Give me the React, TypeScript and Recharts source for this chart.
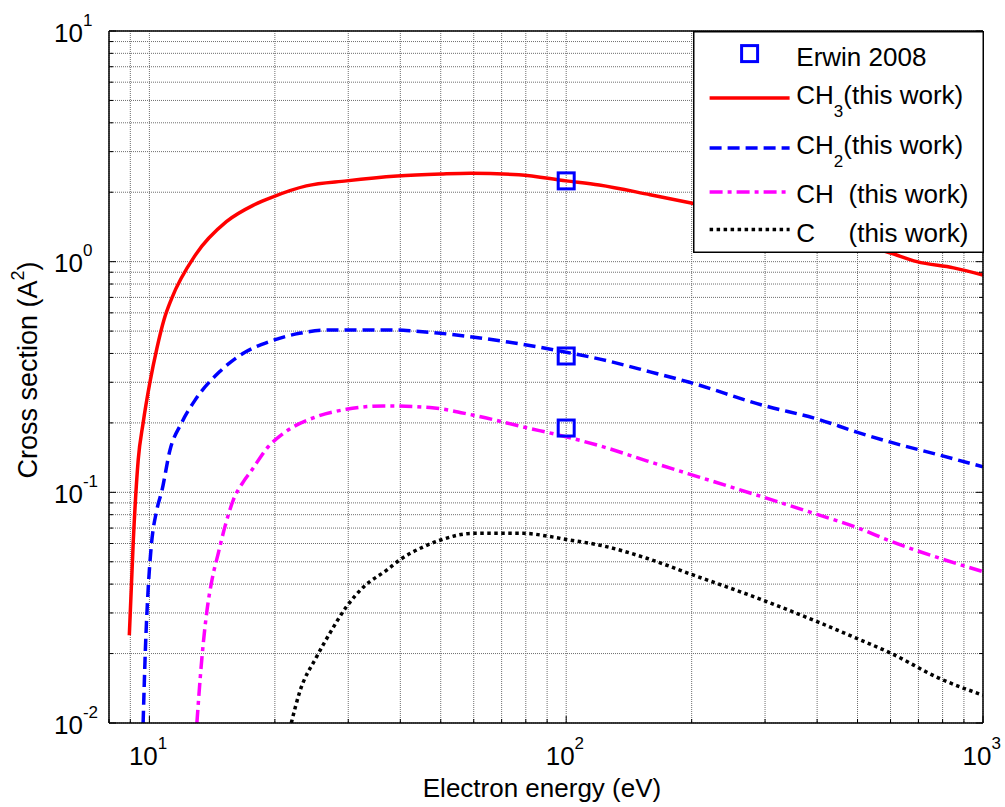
import React from 'react';
import { ComposedChart, Line, Scatter, XAxis, YAxis, CartesianGrid } from 'recharts';

// ---- data ----
const ch3Energy = [8.95, 9.15, 9.4, 9.66, 10.03, 10.42, 10.84, 11.3, 12.9, 15.3, 17.8, 19.8, 23.8, 29.7, 39.3, 50, 59, 77, 100, 120, 159, 198, 600, 694, 850, 1000];
const ch3Values = [0.024, 0.062, 0.138, 0.2, 0.3, 0.42, 0.56, 0.69, 1.07, 1.49, 1.76, 1.91, 2.13, 2.24, 2.35, 2.4, 2.42, 2.38, 2.24, 2.15, 1.95, 1.8, 1.09, 1.0, 0.94, 0.875];

const ch2Energy = [9.66, 9.78, 9.93, 10.1, 10.42, 10.72, 11.2, 11.93, 12.87, 14.73, 16.8, 19.4, 22.9, 26.5, 39.3, 43.3, 69.3, 100, 120.5, 159, 197.6, 297.6, 400, 500, 600, 787, 1000];
const ch2Values = [0.01, 0.0207, 0.0377, 0.058, 0.084, 0.102, 0.152, 0.199, 0.251, 0.333, 0.401, 0.45, 0.489, 0.505, 0.505, 0.5, 0.454, 0.405, 0.378, 0.333, 0.3, 0.238, 0.208, 0.182, 0.165, 0.145, 0.129];

const chEnergy = [13.0, 13.35, 13.75, 14.13, 14.63, 15.18, 15.9, 16.8, 17.5, 19.3, 20.95, 25.2, 29.7, 36.4, 47.1, 59.9, 78.9, 100, 120.5, 156, 197.6, 297.6, 400, 500, 600, 787, 1000];
const chValues = [0.01, 0.0187, 0.0309, 0.0417, 0.0544, 0.071, 0.0927, 0.111, 0.123, 0.158, 0.18, 0.213, 0.229, 0.237, 0.233, 0.216, 0.192, 0.174, 0.159, 0.137, 0.12, 0.0952, 0.0802, 0.0702, 0.0614, 0.0518, 0.0453];

const cEnergy = [21.9, 22.9, 25.2, 27.1, 29.7, 32.7, 37.1, 39.9, 45.4, 49.8, 59.9, 78.9, 91.5, 100, 120.5, 156, 197.6, 297.6, 400, 500, 600, 787, 1000];
const cValues = [0.01, 0.0135, 0.0194, 0.0245, 0.0319, 0.039, 0.046, 0.051, 0.058, 0.062, 0.0664, 0.0664, 0.0643, 0.0625, 0.059, 0.0518, 0.0444, 0.034, 0.0275, 0.0232, 0.0201, 0.0156, 0.0132];

const erwinEnergy = [100, 100, 100];
const erwinValues = [2.24, 0.39, 0.19];

const xTicks = [8, 9, 10, 20, 30, 40, 50, 60, 70, 80, 90, 100, 200, 300, 400, 500, 600, 700, 800, 900, 1000];
const yTicks = [0.01, 0.02, 0.03, 0.04, 0.05, 0.06, 0.07, 0.08, 0.09, 0.1, 0.2, 0.3, 0.4, 0.5, 0.6, 0.7, 0.8, 0.9, 1, 2, 3, 4, 5, 6, 7, 8, 9, 10];

const xTitle = 'Electron energy (eV)';
const yTitle = 'Cross section (A';
const legendLabels = ['Erwin 2008', 'CH', 'CH', 'CH', 'C', '(this work)'];

const zip = (xs: number[], ys: number[]) => xs.map((x, i) => ({ x, y: ys[i] }));
const ch3Data = zip(ch3Energy, ch3Values);
const ch2Data = zip(ch2Energy, ch2Values);
const chData = zip(chEnergy, chValues);
const cData = zip(cEnergy, cValues);
const erwinData = zip(erwinEnergy, erwinValues);

const FONT = '"Liberation Sans", Arial, Helvetica, sans-serif';
const FS = 26;
const SUP = 17;

const isMajor = (v: number) => Math.abs(Math.log10(v) - Math.round(Math.log10(v))) < 1e-6;
const expOf = (v: number) => Math.round(Math.log10(v));

const BottomTick = (props: any) => {
  const { x, y, payload } = props;
  const v = payload.value;
  const major = isMajor(v);
  return (
    <g>
      <line x1={x} x2={x} y1={y} y2={y - (major ? 7 : 4)} stroke="#000" strokeWidth={1} />
      {major && (
        <text x={x - 20.5} y={y + 42} textAnchor="start" fontSize={FS} fontFamily={FONT} fill="#000">
          10<tspan dy={-16} fontSize={SUP}>{expOf(v)}</tspan>
        </text>
      )}
    </g>
  );
};

const TopTick = (props: any) => {
  const { x, y, payload } = props;
  const major = isMajor(payload.value);
  return <line x1={x} x2={x} y1={y} y2={y + (major ? 7 : 4)} stroke="#000" strokeWidth={1} />;
};

const LeftTick = (props: any) => {
  const { x, y, payload } = props;
  const v = payload.value;
  const major = isMajor(v);
  return (
    <g>
      <line x1={x} x2={x + (major ? 7 : 4)} y1={y} y2={y} stroke="#000" strokeWidth={1} />
      {major && (
        <text x={x - 55} y={y + 10.5} textAnchor="start" fontSize={FS} fontFamily={FONT} fill="#000">
          10<tspan dy={-16} fontSize={SUP}>{expOf(v)}</tspan>
        </text>
      )}
    </g>
  );
};

const RightTick = (props: any) => {
  const { x, y, payload } = props;
  const major = isMajor(payload.value);
  return <line x1={x} x2={x - (major ? 7 : 4)} y1={y} y2={y} stroke="#000" strokeWidth={1} />;
};

const XTitle = (props: any) => {
  const vb = props.viewBox || { x: 101, y: 715, width: 874, height: 70 };
  const cx = vb.x + vb.width / 2 - 4;
  return (
    <text x={cx} y={vb.y + 74} textAnchor="middle" fontSize={FS} fontFamily={FONT} fill="#000">
      {xTitle}
    </text>
  );
};

const YTitle = (props: any) => {
  const vb = props.viewBox || { x: 0, y: 23, width: 101, height: 692 };
  const cy = vb.y + vb.height / 2 - 7;
  return (
    <text transform={`translate(29, ${cy}) rotate(-90)`} x={0} y={0} textAnchor="middle" fontSize={27} fontFamily={FONT} fill="#000">
      {yTitle}
      <tspan dy={-13} fontSize={18}>2</tspan>
      <tspan dy={13}>)</tspan>
    </text>
  );
};

const SquareShape = (props: any) => {
  const { cx, cy } = props;
  return <rect x={cx - 8} y={cy - 8} width={16} height={16} fill="none" stroke="#0000ff" strokeWidth={3} />;
};

const Legend = () => {
  const tx = 103.3;
  const lx1 = 16.6;
  const lx2 = 96.6;
  const rest = 155.5;
  return (
    <svg width={291} height={222} style={{ position: 'absolute', left: 684.7 + 8, top: 22.7 + 8 }}>
      <rect x={0.75} y={0.75} width={289.5} height={220.5} fill="#fff" stroke="#000" strokeWidth={1.5} />
      <rect x={56.6 - 8} y={22.6 - 8} width={16} height={16} fill="none" stroke="#0000ff" strokeWidth={3} />
      <text x={tx} y={35} fontSize={FS} fontFamily={FONT} fill="#000">{legendLabels[0]}</text>

      <line x1={lx1} x2={lx2} y1={67} y2={67} stroke="#ff0000" strokeWidth={3.5} />
      <text x={tx} y={72.6} fontSize={FS} fontFamily={FONT} fill="#000">
        {legendLabels[1]}<tspan dy={13} fontSize={SUP}>3</tspan><tspan dy={-13}>{legendLabels[5]}</tspan>
      </text>

      <line x1={lx1} x2={lx2} y1={117} y2={117} stroke="#0000ff" strokeWidth={3.5} strokeDasharray="12 6" />
      <text x={tx} y={122.6} fontSize={FS} fontFamily={FONT} fill="#000">
        {legendLabels[2]}<tspan dy={13} fontSize={SUP}>2</tspan><tspan dy={-13}>{legendLabels[5]}</tspan>
      </text>

      <line x1={lx1} x2={lx2} y1={161} y2={161} stroke="#ff00ff" strokeWidth={3.5} strokeDasharray="13 5 4 5" />
      <text x={tx} y={172} fontSize={FS} fontFamily={FONT} fill="#000">
        {legendLabels[3]}<tspan x={rest}>{legendLabels[5]}</tspan>
      </text>

      <line x1={lx1} x2={lx2} y1={198.6} y2={198.6} stroke="#000" strokeWidth={3.5} strokeDasharray="3.5 3.5" />
      <text x={tx} y={211} fontSize={FS} fontFamily={FONT} fill="#000">
        {legendLabels[4]}<tspan x={rest}>{legendLabels[5]}</tspan>
      </text>
    </svg>
  );
};

export default function App() {
  return (
    <div style={{ position: 'relative', width: 997, height: 799, padding: '8px 0 0 8px', fontFamily: FONT, background: '#fff' }}>
      <style>{`html,body{margin:0;padding:0;overflow:hidden;background:#fff}`}</style>
      <ComposedChart width={997} height={799} margin={{ top: 22, right: 21, bottom: 14, left: 0 }}>
        <CartesianGrid stroke="#6e6e6e" strokeDasharray="1 1" strokeWidth={1} />
        <XAxis
          xAxisId={0}
          dataKey="x"
          type="number"
          scale="log"
          domain={[8, 1000]}
          allowDataOverflow
          ticks={xTicks}
          interval={0}
          tickSize={0}
          tickMargin={0}
          tickLine={false}
          tick={<BottomTick />}
          axisLine={{ stroke: '#000', strokeWidth: 1.5 }}
          height={70}
          label={<XTitle />}
        />
        <XAxis
          xAxisId="top"
          orientation="top"
          type="number"
          scale="log"
          domain={[8, 1000]}
          allowDataOverflow
          ticks={xTicks}
          interval={0}
          tickSize={0}
          tickMargin={0}
          tickLine={false}
          tick={<TopTick />}
          axisLine={{ stroke: '#000', strokeWidth: 1.5 }}
          height={1}
        />
        <YAxis
          yAxisId={0}
          type="number"
          scale="log"
          domain={[0.01, 10]}
          allowDataOverflow
          ticks={yTicks}
          interval={0}
          tickSize={0}
          tickMargin={0}
          tickLine={false}
          tick={<LeftTick />}
          axisLine={{ stroke: '#000', strokeWidth: 1.5 }}
          width={101}
          label={<YTitle />}
        />
        <YAxis
          yAxisId="right"
          orientation="right"
          type="number"
          scale="log"
          domain={[0.01, 10]}
          allowDataOverflow
          ticks={yTicks}
          interval={0}
          tickSize={0}
          tickMargin={0}
          tickLine={false}
          tick={<RightTick />}
          axisLine={{ stroke: '#000', strokeWidth: 1.5 }}
          width={1}
        />
        <Line data={ch3Data} dataKey="y" type="monotone" stroke="#ff0000" strokeWidth={3.5} dot={false} isAnimationActive={false} />
        <Line data={ch2Data} dataKey="y" type="monotone" stroke="#0000ff" strokeWidth={3.5} strokeDasharray="12 6" dot={false} isAnimationActive={false} />
        <Line data={chData} dataKey="y" type="monotone" stroke="#ff00ff" strokeWidth={3.5} strokeDasharray="13 5 4 5" dot={false} isAnimationActive={false} />
        <Line data={cData} dataKey="y" type="monotone" stroke="#000000" strokeWidth={3.5} strokeDasharray="3.5 3.5" dot={false} isAnimationActive={false} />
        <Scatter data={erwinData} dataKey="y" shape={<SquareShape />} isAnimationActive={false} />
      </ComposedChart>
      <Legend />
    </div>
  );
}
